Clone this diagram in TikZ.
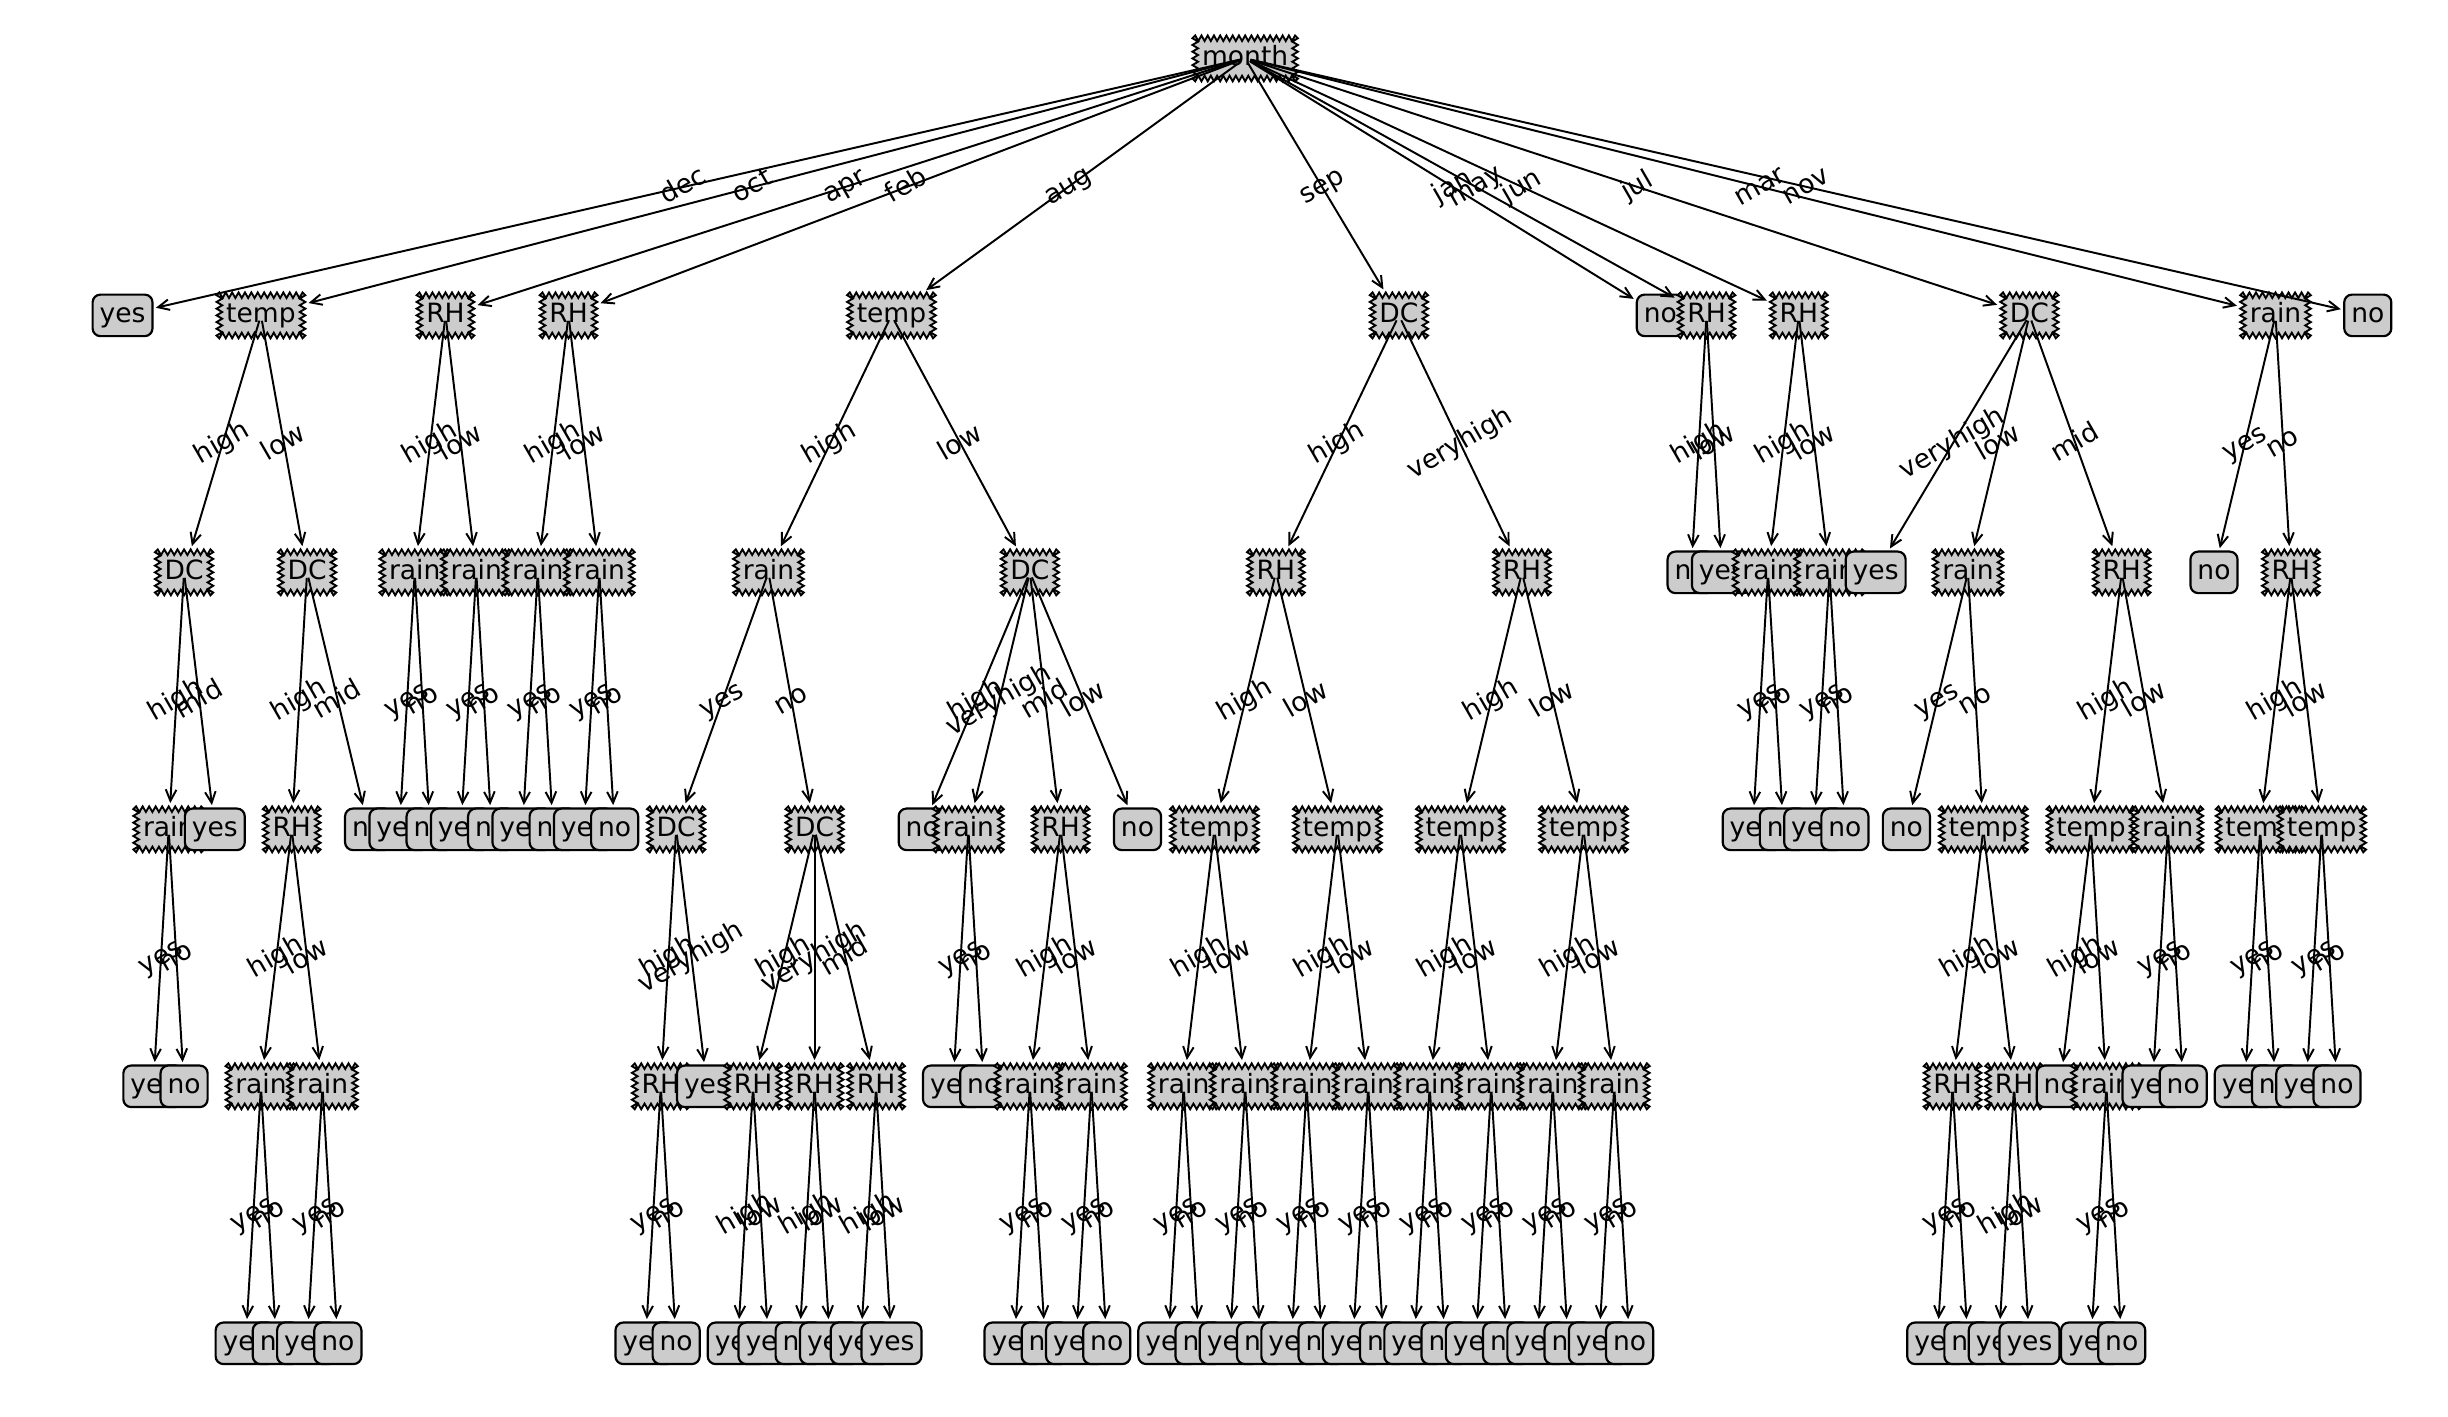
\documentclass[tikz,border=0pt]{standalone}
\usepackage{fontspec}
\setmainfont{DejaVu Sans}
\usetikzlibrary{arrows.meta,calc}
\def\sawA{1.8}
\newcommand\SawNode[3]{%
  \node[dshape, outer sep=0pt] (ph-#1) at (#3) {\phantom{#2}};
  \pgfpointanchor{ph-#1}{south west}\pgfgetlastxy{\sawSX}{\sawSY}%
  \pgfpointanchor{ph-#1}{north east}\pgfgetlastxy{\sawEX}{\sawEY}%
  \pgfmathsetmacro\sawSX{\sawSX}\pgfmathsetmacro\sawSY{\sawSY}%
  \pgfmathsetmacro\sawEX{\sawEX}\pgfmathsetmacro\sawEY{\sawEY}%
  \pgfmathtruncatemacro\sawBX{2*max(2,round((\sawEX-\sawSX)/4))}%
  \pgfmathtruncatemacro\sawBY{2*max(2,round((\sawEY-\sawSY)/4))}%
  \pgfmathsetmacro\sawHX{(\sawEX-\sawSX)/\sawBX}%
  \pgfmathsetmacro\sawHY{(\sawEY-\sawSY)/\sawBY}%
  \filldraw[saw] ({\sawSX},{\sawSY-\sawA})
    foreach \k in {1,...,\sawBX} { -- ({\sawSX+\k*\sawHX},{\sawSY+\sawA*(2*mod(\k,2)-1)}) }
    foreach \k in {0,...,\sawBY} { -- ({\sawEX+\sawA*(1-2*mod(\k,2))},{\sawSY+\k*\sawHY}) }
    foreach \k in {0,...,\sawBX} { -- ({\sawEX-\k*\sawHX},{\sawEY+\sawA*(1-2*mod(\k,2))}) }
    foreach \k in {0,...,\sawBY} { -- ({\sawSX-\sawA*(1-2*mod(\k,2))},{\sawEY-\k*\sawHY}) }
    -- cycle;
  \node[dshape, outer sep=2.4pt] (#1) at (#3) {#2};
}
\newcommand\Dn[6]{%
  \coordinate (c-#1) at ({lx(#2)},{ly(#3)});
  \node[lab] (l-#1) at ($(#5.center)!0.5!(c-#1)$) {#6};
  \SawNode{#1}{#4}{c-#1}
  \draw[edge] (#5.center) -- (#1);
}
\newcommand\Lf[6]{%
  \coordinate (c-#1) at ({lx(#2)},{ly(#3)});
  \node[lnode] (#1) at (c-#1) {#4};
  \draw[edge] (#5.center) -- (#1);
  \node[lab] (l-#1) at ($(#5.center)!0.5!(c-#1)$) {#6};
}
\begin{document}
\begin{tikzpicture}[x=1pt,y=1pt,
  declare function={lx(\i)=78.5+19.7*\i; ly(\k)=-(37.4+164.6*\k);},
  every node/.style={font=\fontsize{17}{20}\selectfont, text height=13pt, text depth=4pt},
  dshape/.style={rectangle, draw=none, fill=none, inner xsep=4.4pt, inner ysep=4.4pt},
  saw/.style={draw=black, fill=black!20, line width=1.2pt, line join=miter},
  lnode/.style={draw=black, line width=1.4pt, fill=black!20, rounded corners=5pt,
    inner xsep=4.5pt, inner ysep=4.8pt},
  edge/.style={line width=1.25pt, -{Straight Barb[length=7.2pt,width=6.8pt]}, shorten <=3.5pt, shorten >=1.5pt},
  lab/.style={rotate=30, inner sep=0pt}]
\fill[white] (0,0) rectangle (1568,-907);
\useasboundingbox (0,0) rectangle (1568,-907);
\coordinate (c-R) at ({lx(36.5)},{ly(0)});
\SawNode{R}{month}{c-R}
% dec
\Lf{L0}{0}{1}{yes}{R}{dec}
% oct
\Dn{A}{4.5}{1}{temp}{R}{oct}
 \Dn{A1}{2}{2}{DC}{A}{high}
  \Dn{A11}{1.5}{3}{rain}{A1}{high}
   \Lf{L1}{1}{4}{yes}{A11}{yes}
   \Lf{L2}{2}{4}{no}{A11}{no}
  \Lf{L3}{3}{3}{yes}{A1}{mid}
 \Dn{A2}{6}{2}{DC}{A}{low}
  \Dn{A21}{5.5}{3}{RH}{A2}{high}
   \Dn{A211}{4.5}{4}{rain}{A21}{high}
    \Lf{L4}{4}{5}{yes}{A211}{yes}
    \Lf{L5}{5}{5}{no}{A211}{no}
   \Dn{A212}{6.5}{4}{rain}{A21}{low}
    \Lf{L6}{6}{5}{yes}{A212}{yes}
    \Lf{L7}{7}{5}{no}{A212}{no}
  \Lf{L8}{8}{3}{no}{A2}{mid}
% apr
\Dn{B}{10.5}{1}{RH}{R}{apr}
 \Dn{B1}{9.5}{2}{rain}{B}{high}
  \Lf{L9}{9}{3}{yes}{B1}{yes}
  \Lf{L10}{10}{3}{no}{B1}{no}
 \Dn{B2}{11.5}{2}{rain}{B}{low}
  \Lf{L11}{11}{3}{yes}{B2}{yes}
  \Lf{L12}{12}{3}{no}{B2}{no}
% feb
\Dn{C}{14.5}{1}{RH}{R}{feb}
 \Dn{C1}{13.5}{2}{rain}{C}{high}
  \Lf{L13}{13}{3}{yes}{C1}{yes}
  \Lf{L14}{14}{3}{no}{C1}{no}
 \Dn{C2}{15.5}{2}{rain}{C}{low}
  \Lf{L15}{15}{3}{yes}{C2}{yes}
  \Lf{L16}{16}{3}{no}{C2}{no}
% aug
\Dn{D}{25}{1}{temp}{R}{aug}
 \Dn{D1}{21}{2}{rain}{D}{high}
  \Dn{D11}{18}{3}{DC}{D1}{yes}
   \Dn{D111}{17.5}{4}{RH}{D11}{high}
    \Lf{L17}{17}{5}{yes}{D111}{yes}
    \Lf{L18}{18}{5}{no}{D111}{no}
   \Lf{L19}{19}{4}{yes}{D11}{veryhigh}
  \Dn{D12}{22.5}{3}{DC}{D1}{no}
   \Dn{D121}{20.5}{4}{RH}{D12}{high}
    \Lf{L20}{20}{5}{yes}{D121}{high}
    \Lf{L21}{21}{5}{yes}{D121}{low}
   \Dn{D122}{22.5}{4}{RH}{D12}{veryhigh}
    \Lf{L22}{22}{5}{no}{D122}{high}
    \Lf{L23}{23}{5}{yes}{D122}{low}
   \Dn{D123}{24.5}{4}{RH}{D12}{mid}
    \Lf{L24}{24}{5}{yes}{D123}{high}
    \Lf{L25}{25}{5}{yes}{D123}{low}
 \Dn{D2}{29.5}{2}{DC}{D}{low}
  \Lf{L26}{26}{3}{no}{D2}{high}
  \Dn{D22}{27.5}{3}{rain}{D2}{veryhigh}
   \Lf{L27}{27}{4}{yes}{D22}{yes}
   \Lf{L28}{28}{4}{no}{D22}{no}
  \Dn{D23}{30.5}{3}{RH}{D2}{mid}
   \Dn{D231}{29.5}{4}{rain}{D23}{high}
    \Lf{L29}{29}{5}{yes}{D231}{yes}
    \Lf{L30}{30}{5}{no}{D231}{no}
   \Dn{D232}{31.5}{4}{rain}{D23}{low}
    \Lf{L31}{31}{5}{yes}{D232}{yes}
    \Lf{L32}{32}{5}{no}{D232}{no}
  \Lf{L33}{33}{3}{no}{D2}{low}
% sep
\Dn{E}{41.5}{1}{DC}{R}{sep}
 \Dn{E1}{37.5}{2}{RH}{E}{high}
  \Dn{E11}{35.5}{3}{temp}{E1}{high}
   \Dn{E111}{34.5}{4}{rain}{E11}{high}
    \Lf{L34}{34}{5}{yes}{E111}{yes}
    \Lf{L35}{35}{5}{no}{E111}{no}
   \Dn{E112}{36.5}{4}{rain}{E11}{low}
    \Lf{L36}{36}{5}{yes}{E112}{yes}
    \Lf{L37}{37}{5}{no}{E112}{no}
  \Dn{E12}{39.5}{3}{temp}{E1}{low}
   \Dn{E121}{38.5}{4}{rain}{E12}{high}
    \Lf{L38}{38}{5}{yes}{E121}{yes}
    \Lf{L39}{39}{5}{no}{E121}{no}
   \Dn{E122}{40.5}{4}{rain}{E12}{low}
    \Lf{L40}{40}{5}{yes}{E122}{yes}
    \Lf{L41}{41}{5}{no}{E122}{no}
 \Dn{E2}{45.5}{2}{RH}{E}{veryhigh}
  \Dn{E21}{43.5}{3}{temp}{E2}{high}
   \Dn{E211}{42.5}{4}{rain}{E21}{high}
    \Lf{L42}{42}{5}{yes}{E211}{yes}
    \Lf{L43}{43}{5}{no}{E211}{no}
   \Dn{E212}{44.5}{4}{rain}{E21}{low}
    \Lf{L44}{44}{5}{yes}{E212}{yes}
    \Lf{L45}{45}{5}{no}{E212}{no}
  \Dn{E22}{47.5}{3}{temp}{E2}{low}
   \Dn{E221}{46.5}{4}{rain}{E22}{high}
    \Lf{L46}{46}{5}{yes}{E221}{yes}
    \Lf{L47}{47}{5}{no}{E221}{no}
   \Dn{E222}{48.5}{4}{rain}{E22}{low}
    \Lf{L48}{48}{5}{yes}{E222}{yes}
    \Lf{L49}{49}{5}{no}{E222}{no}
% jan
\Lf{L50}{50}{1}{no}{R}{jan}
% may
\Dn{F}{51.5}{1}{RH}{R}{may}
 \Lf{L51}{51}{2}{no}{F}{high}
 \Lf{L52}{52}{2}{yes}{F}{low}
% jun
\Dn{G}{54.5}{1}{RH}{R}{jun}
 \Dn{G1}{53.5}{2}{rain}{G}{high}
  \Lf{L53}{53}{3}{yes}{G1}{yes}
  \Lf{L54}{54}{3}{no}{G1}{no}
 \Dn{G2}{55.5}{2}{rain}{G}{low}
  \Lf{L55}{55}{3}{yes}{G2}{yes}
  \Lf{L56}{56}{3}{no}{G2}{no}
% jul
\Dn{H}{62}{1}{DC}{R}{jul}
 \Lf{L57}{57}{2}{yes}{H}{veryhigh}
 \Dn{H2}{60}{2}{rain}{H}{low}
  \Lf{L58}{58}{3}{no}{H2}{yes}
  \Dn{H22}{60.5}{3}{temp}{H2}{no}
   \Dn{H221}{59.5}{4}{RH}{H22}{high}
    \Lf{L59}{59}{5}{yes}{H221}{yes}
    \Lf{L60}{60}{5}{no}{H221}{no}
   \Dn{H222}{61.5}{4}{RH}{H22}{low}
    \Lf{L61}{61}{5}{yes}{H222}{high}
    \Lf{L62}{62}{5}{yes}{H222}{low}
 \Dn{H3}{65}{2}{RH}{H}{mid}
  \Dn{H31}{64}{3}{temp}{H3}{high}
   \Lf{L63}{63}{4}{no}{H31}{high}
   \Dn{H312}{64.5}{4}{rain}{H31}{low}
    \Lf{L64}{64}{5}{yes}{H312}{yes}
    \Lf{L65}{65}{5}{no}{H312}{no}
  \Dn{H32}{66.5}{3}{rain}{H3}{low}
   \Lf{L66}{66}{4}{yes}{H32}{yes}
   \Lf{L67}{67}{4}{no}{H32}{no}
% mar
\Dn{I}{70}{1}{rain}{R}{mar}
 \Lf{L68}{68}{2}{no}{I}{yes}
 \Dn{I2}{70.5}{2}{RH}{I}{no}
  \Dn{I21}{69.5}{3}{temp}{I2}{high}
   \Lf{L69}{69}{4}{yes}{I21}{yes}
   \Lf{L70}{70}{4}{no}{I21}{no}
  \Dn{I22}{71.5}{3}{temp}{I2}{low}
   \Lf{L71}{71}{4}{yes}{I22}{yes}
   \Lf{L72}{72}{4}{no}{I22}{no}
% nov
\Lf{L73}{73}{1}{no}{R}{nov}
\end{tikzpicture}
\end{document}
